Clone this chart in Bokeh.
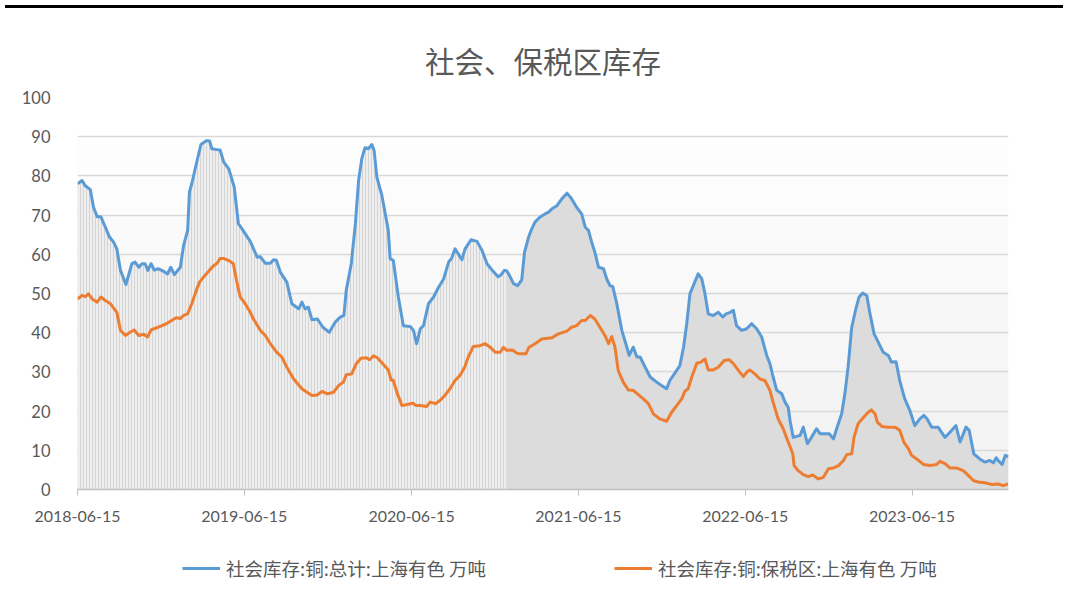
import pandas as pd
from bokeh.plotting import figure
from bokeh.models import (ColumnDataSource, FixedTicker, DatetimeTickFormatter, Legend,
                          LegendItem, BoxAnnotation, Range1d, Div)
from bokeh.layouts import column
from bokeh.embed import file_html
from bokeh.resources import INLINE

title_text = "社会、保税区库存"
series_names = ["社会库存:铜:总计:上海有色 万吨", "社会库存:铜:保税区:上海有色 万吨"]
tick_dates = ["2018-06-15", "2019-06-15", "2020-06-15", "2021-06-15", "2022-06-15", "2023-06-15"]
y_ticks = [0, 10, 20, 30, 40, 50, 60, 70, 80, 90, 100]

total_dates = [
    "2018-06-15", "2018-06-25", "2018-07-02", "2018-07-13", "2018-07-20", "2018-07-28", "2018-08-05",
    "2018-08-15", "2018-08-24", "2018-09-02", "2018-09-09", "2018-09-17", "2018-09-29", "2018-10-12",
    "2018-10-19", "2018-10-27", "2018-11-03", "2018-11-10", "2018-11-16", "2018-11-23", "2018-11-30",
    "2018-12-09", "2018-12-20", "2018-12-29", "2019-01-05", "2019-01-13", "2019-01-26", "2019-02-02",
    "2019-02-11", "2019-02-15", "2019-02-20", "2019-03-02", "2019-03-12", "2019-03-24", "2019-03-31",
    "2019-04-05", "2019-04-16", "2019-04-23", "2019-05-01", "2019-05-12", "2019-05-24", "2019-06-02",
    "2019-06-10", "2019-06-28", "2019-07-13", "2019-07-20", "2019-07-31", "2019-08-11", "2019-08-18",
    "2019-08-24", "2019-09-02", "2019-09-16", "2019-09-27", "2019-10-12", "2019-10-19", "2019-10-26",
    "2019-11-02", "2019-11-10", "2019-11-22", "2019-12-04", "2019-12-18", "2019-12-31", "2020-01-11",
    "2020-01-19", "2020-01-24", "2020-02-04", "2020-02-13", "2020-02-20", "2020-02-27", "2020-03-05",
    "2020-03-13", "2020-03-20", "2020-03-25", "2020-03-31", "2020-04-11", "2020-04-25", "2020-04-29",
    "2020-05-06", "2020-05-17", "2020-05-28", "2020-06-12", "2020-06-19", "2020-06-26", "2020-07-04",
    "2020-07-11", "2020-07-22", "2020-08-02", "2020-08-13", "2020-08-24", "2020-09-04", "2020-09-11",
    "2020-09-18", "2020-09-25", "2020-10-03", "2020-10-10", "2020-10-23", "2020-11-05", "2020-11-16",
    "2020-11-27", "2020-12-08", "2020-12-21", "2020-12-28", "2021-01-04", "2021-01-09", "2021-01-17",
    "2021-01-24", "2021-02-02", "2021-02-11", "2021-02-17", "2021-02-26", "2021-03-05", "2021-03-12",
    "2021-03-23", "2021-04-03", "2021-04-10", "2021-04-18", "2021-04-29", "2021-05-10", "2021-05-21",
    "2021-05-31", "2021-06-11", "2021-06-22", "2021-06-30", "2021-07-07", "2021-07-14", "2021-07-21",
    "2021-07-29", "2021-08-09", "2021-08-16", "2021-08-23", "2021-08-29", "2021-09-07", "2021-09-18",
    "2021-09-29", "2021-10-04", "2021-10-13", "2021-10-21", "2021-10-28", "2021-11-08", "2021-11-19",
    "2021-12-03", "2021-12-14", "2021-12-25", "2022-01-01", "2022-01-12", "2022-01-23", "2022-01-31",
    "2022-02-07", "2022-02-14", "2022-02-23", "2022-03-04", "2022-03-12", "2022-03-19", "2022-03-26",
    "2022-04-06", "2022-04-17", "2022-04-27", "2022-05-04", "2022-05-13", "2022-05-20", "2022-05-27",
    "2022-06-07", "2022-06-18", "2022-06-29", "2022-07-10", "2022-07-21", "2022-08-01", "2022-08-08",
    "2022-08-15", "2022-08-23", "2022-09-03", "2022-09-10", "2022-09-17", "2022-09-21", "2022-09-28",
    "2022-10-13", "2022-10-20", "2022-10-29", "2022-11-07", "2022-11-18", "2022-11-26", "2022-12-06",
    "2022-12-16", "2022-12-25", "2023-01-01", "2023-01-12", "2023-01-19", "2023-01-26", "2023-02-03",
    "2023-02-12", "2023-02-19", "2023-02-27", "2023-03-08", "2023-03-15", "2023-03-24", "2023-04-02",
    "2023-04-13", "2023-04-24", "2023-05-01", "2023-05-11", "2023-05-19", "2023-05-30", "2023-06-10",
    "2023-06-21", "2023-07-02", "2023-07-11", "2023-07-18", "2023-07-28", "2023-08-11", "2023-08-26",
    "2023-09-06", "2023-09-19", "2023-09-28", "2023-10-11", "2023-10-18", "2023-10-28", "2023-11-10",
    "2023-11-21", "2023-12-02", "2023-12-10", "2023-12-16", "2023-12-21", "2023-12-29", "2024-01-05",
    "2024-01-12",
]
total_values = [
    78.0, 78.8, 77.5, 76.5, 72.0, 69.6, 69.6, 66.9, 64.4, 63.1, 61.4, 55.9, 52.3, 57.6,
    58.0, 56.7, 57.6, 57.6, 55.9, 57.6, 56.0, 56.3, 55.7, 55.0, 56.7, 54.8, 56.7, 62.2,
    66.1, 75.9, 78.0, 83.1, 88.0, 89.0, 88.9, 86.9, 86.7, 86.6, 83.5, 81.8, 77.1, 67.8,
    66.5, 63.3, 59.3, 59.4, 57.7, 57.7, 58.6, 58.5, 55.4, 52.9, 47.4, 46.1, 47.8, 46.1,
    46.5, 43.3, 43.5, 41.4, 40.1, 42.7, 44.0, 44.4, 50.8, 57.6, 67.8, 78.8, 84.4, 87.2,
    87.0, 88.0, 86.5, 79.7, 75.0, 66.1, 58.9, 58.4, 49.1, 41.8, 41.6, 40.6, 37.2, 41.0,
    41.8, 47.4, 49.1, 51.6, 53.7, 58.0, 59.1, 61.4, 60.1, 58.6, 61.4, 63.7, 63.3, 61.0,
    57.6, 56.0, 54.3, 54.8, 55.9, 55.8, 54.2, 52.5, 52.0, 53.5, 60.5, 64.4, 66.5, 68.2,
    69.5, 70.3, 70.7, 71.6, 72.4, 74.2, 75.6, 74.2, 72.0, 70.3, 66.9, 66.1, 63.1, 60.5,
    56.7, 56.3, 53.7, 52.0, 51.8, 47.4, 40.6, 36.3, 34.2, 36.3, 33.8, 33.8, 31.2, 28.7,
    27.4, 26.5, 25.7, 27.8, 29.7, 31.6, 36.3, 42.3, 49.9, 52.5, 55.0, 53.7, 49.9, 44.8,
    44.4, 45.2, 44.0, 44.8, 45.2, 45.7, 41.8, 40.6, 41.0, 42.3, 41.0, 38.9, 34.2, 32.1,
    28.7, 25.3, 24.4, 22.3, 21.0, 17.6, 13.3, 13.8, 15.9, 11.7, 13.3, 15.5, 14.2, 14.2,
    14.2, 12.9, 15.5, 19.3, 24.4, 31.2, 41.4, 46.1, 49.1, 50.1, 49.5, 44.8, 39.7, 37.6,
    35.0, 34.2, 32.5, 32.6, 27.8, 23.1, 20.2, 16.3, 18.0, 18.9, 18.0, 15.9, 15.9, 13.3,
    14.6, 16.3, 12.1, 15.9, 15.1, 9.1, 7.8, 7.0, 7.4, 6.8, 8.1, 7.3, 6.4, 8.7,
    8.4,
]

bonded_dates = [
    "2018-06-15", "2018-06-25", "2018-07-02", "2018-07-09", "2018-07-17", "2018-07-28", "2018-08-05",
    "2018-08-15", "2018-08-26", "2018-09-09", "2018-09-17", "2018-09-28", "2018-10-08", "2018-10-17",
    "2018-10-27", "2018-11-07", "2018-11-15", "2018-11-23", "2018-12-04", "2018-12-17", "2018-12-28",
    "2019-01-07", "2019-01-17", "2019-01-26", "2019-02-02", "2019-02-11", "2019-02-20", "2019-03-02",
    "2019-03-09", "2019-03-18", "2019-03-29", "2019-04-07", "2019-04-16", "2019-04-23", "2019-05-02",
    "2019-05-12", "2019-05-22", "2019-05-29", "2019-06-06", "2019-06-17", "2019-06-28", "2019-07-05",
    "2019-07-20", "2019-07-31", "2019-08-11", "2019-08-25", "2019-09-05", "2019-09-16", "2019-10-01",
    "2019-10-19", "2019-10-30", "2019-11-10", "2019-11-21", "2019-12-02", "2019-12-14", "2019-12-27",
    "2020-01-07", "2020-01-18", "2020-01-24", "2020-02-05", "2020-02-15", "2020-02-25", "2020-03-08",
    "2020-03-15", "2020-03-24", "2020-04-01", "2020-04-13", "2020-04-25", "2020-05-01", "2020-05-06",
    "2020-05-15", "2020-05-25", "2020-06-05", "2020-06-18", "2020-06-25", "2020-07-04", "2020-07-18",
    "2020-07-26", "2020-08-06", "2020-08-16", "2020-08-27", "2020-09-07", "2020-09-18", "2020-09-29",
    "2020-10-09", "2020-10-17", "2020-10-28", "2020-11-12", "2020-11-23", "2020-12-04", "2020-12-15",
    "2020-12-26", "2021-01-02", "2021-01-09", "2021-01-22", "2021-01-31", "2021-02-07", "2021-02-20",
    "2021-02-27", "2021-03-12", "2021-03-27", "2021-04-18", "2021-05-02", "2021-05-21", "2021-05-31",
    "2021-06-11", "2021-06-22", "2021-06-30", "2021-07-11", "2021-07-21", "2021-08-01", "2021-08-12",
    "2021-08-20", "2021-08-27", "2021-09-03", "2021-09-10", "2021-09-21", "2021-10-02", "2021-10-13",
    "2021-10-24", "2021-11-04", "2021-11-15", "2021-11-26", "2021-12-10", "2021-12-25", "2022-01-05",
    "2022-01-16", "2022-01-27", "2022-02-03", "2022-02-10", "2022-02-18", "2022-03-01", "2022-03-10",
    "2022-03-19", "2022-03-26", "2022-04-06", "2022-04-17", "2022-04-30", "2022-05-11", "2022-05-20",
    "2022-05-31", "2022-06-11", "2022-06-18", "2022-06-25", "2022-07-06", "2022-07-17", "2022-07-28",
    "2022-08-08", "2022-08-15", "2022-08-26", "2022-09-06", "2022-09-17", "2022-09-27", "2022-09-30",
    "2022-10-09", "2022-10-20", "2022-10-31", "2022-11-10", "2022-11-22", "2022-12-03", "2022-12-14",
    "2022-12-25", "2023-01-05", "2023-01-16", "2023-01-23", "2023-02-03", "2023-02-08", "2023-02-17",
    "2023-02-28", "2023-03-11", "2023-03-18", "2023-03-26", "2023-03-31", "2023-04-10", "2023-04-24",
    "2023-05-09", "2023-05-19", "2023-05-28", "2023-06-07", "2023-06-14", "2023-06-25", "2023-07-10",
    "2023-07-24", "2023-08-08", "2023-08-15", "2023-08-26", "2023-09-06", "2023-09-20", "2023-10-05",
    "2023-10-16", "2023-10-27", "2023-11-07", "2023-11-21", "2023-12-06", "2023-12-21", "2023-12-31",
    "2024-01-11",
]
bonded_values = [
    48.6, 49.5, 49.2, 49.9, 48.6, 47.8, 49.1, 48.2, 47.4, 45.2, 40.6, 39.3, 40.1, 40.7,
    39.3, 39.6, 38.9, 40.7, 41.2, 41.8, 42.4, 43.1, 43.8, 43.6, 44.4, 44.8, 47.4, 50.8,
    52.9, 54.2, 55.7, 56.9, 57.7, 58.9, 58.9, 58.4, 57.6, 53.3, 49.1, 47.4, 45.2, 43.5,
    40.6, 39.3, 37.2, 35.0, 33.8, 31.2, 28.2, 25.7, 24.8, 24.0, 24.1, 25.0, 24.4, 24.8,
    26.5, 27.4, 29.3, 29.5, 32.1, 33.5, 33.6, 33.1, 34.1, 33.6, 32.1, 30.5, 28.0, 27.8,
    24.4, 21.4, 21.7, 22.0, 21.4, 21.4, 21.2, 22.3, 21.9, 22.7, 24.0, 25.7, 27.8, 29.1,
    31.2, 33.8, 36.5, 36.7, 37.2, 36.3, 35.0, 35.0, 36.3, 35.5, 35.6, 34.8, 34.6, 34.6,
    36.3, 37.2, 38.4, 38.7, 39.7, 40.4, 41.4, 41.8, 43.1, 43.1, 44.4, 43.5, 41.4, 39.3,
    37.2, 39.0, 36.3, 30.4, 27.4, 25.4, 25.3, 24.2, 23.1, 21.9, 19.3, 18.0, 17.4, 19.7,
    21.4, 23.1, 25.1, 25.7, 28.7, 32.2, 32.5, 33.3, 30.5, 30.5, 31.2, 32.9, 33.1, 32.1,
    30.4, 28.8, 29.9, 30.5, 29.5, 28.2, 27.8, 25.3, 22.3, 18.0, 15.5, 12.1, 9.1, 6.1,
    4.8, 3.8, 3.3, 3.7, 2.7, 3.1, 5.3, 5.5, 6.1, 7.4, 8.9, 9.1, 13.3, 16.8,
    18.3, 19.7, 20.3, 19.3, 17.2, 16.1, 15.9, 15.9, 15.1, 12.1, 10.4, 8.7, 7.8, 6.4,
    6.1, 6.4, 7.2, 6.6, 5.5, 5.5, 4.8, 3.6, 2.3, 1.9, 1.7, 1.3, 1.4, 1.0,
    1.4,
]

BLUE = "#5b9bd5"
ORANGE = "#ed7d31"
TEXT = "#595959"
FONT = "Noto Sans CJK SC"

td = pd.to_datetime(total_dates)
bd = pd.to_datetime(bonded_dates)
split = pd.Timestamp("2021-01-09")

early = ColumnDataSource(dict(x=td[td <= split], y=[v for d, v in zip(td, total_values) if d <= split]))
late = ColumnDataSource(dict(x=td[td >= split], y=[v for d, v in zip(td, total_values) if d >= split]))

p = figure(width=1058, height=526, x_axis_type="datetime", output_backend="svg",
           toolbar_location=None,
           x_range=Range1d(td.min(), max(td.max(), bd.max())), y_range=Range1d(0, 100),
           min_border_left=77, min_border_right=50, min_border_top=84, min_border_bottom=50,
           background_fill_color="white", border_fill_color="white")
p.outline_line_color = None

# soft vertical gradient of the plot area
for i in range(10):
    c = 241 + int(round(14 * i / 9))
    p.add_layout(BoxAnnotation(bottom=i * 10, top=(i + 1) * 10, fill_color=f"#{c:02x}{c:02x}{c:02x}",
                               fill_alpha=1, line_alpha=0, level="image"))

p.varea(x="x", y1=0, y2="y", source=early, fill_color="#eeeeee",
        hatch_pattern="vertical_line", hatch_color="#d4d4d4", hatch_scale=3, hatch_weight=1)
p.varea(x="x", y1=0, y2="y", source=late, fill_color="#dcdcdc")

r1 = p.line(td, total_values, line_width=3, color=BLUE, line_join="round")
r2 = p.line(bd, bonded_values, line_width=3, color=ORANGE, line_join="round")

p.title.text = title_text
p.title.align = "center"
p.title.offset = 12
p.title.text_font = FONT
p.title.text_font_size = "29.5px"
p.title.text_font_style = "normal"
p.title.text_color = TEXT
p.title.standoff = 34

p.xaxis.ticker = FixedTicker(ticks=[pd.Timestamp(t).value // 10**6 for t in tick_dates])
fmt = "%Y-%m-%d"
p.xaxis.formatter = DatetimeTickFormatter(milliseconds=fmt, seconds=fmt, minsec=fmt, minutes=fmt,
                                          hourmin=fmt, hours=fmt, days=fmt, months=fmt, years=fmt)
p.xaxis.axis_line_color = "#bfbfbf"
p.xaxis.axis_line_width = 1.5
p.xaxis.major_tick_line_color = "#bfbfbf"
p.xaxis.major_tick_out = 6
p.xaxis.major_tick_in = 0
p.xaxis.minor_tick_line_color = None
p.xaxis.major_label_text_font = "Lato"
p.xaxis.major_label_text_font_size = "16px"
p.xaxis.major_label_text_color = TEXT
p.xaxis.major_label_standoff = 15

p.yaxis.ticker = FixedTicker(ticks=y_ticks)
p.yaxis.axis_line_color = None
p.yaxis.major_tick_line_color = None
p.yaxis.minor_tick_line_color = None
p.yaxis.major_label_text_font = "Lato"
p.yaxis.major_label_text_font_size = "16.5px"
p.yaxis.major_label_text_color = TEXT
p.yaxis.major_label_standoff = 21

p.xgrid.grid_line_color = None
p.ygrid.grid_line_color = "#d9d9d9"
p.ygrid.grid_line_width = 1.5

# legend strip below the chart (its frame is aligned with the chart frame)
lf = figure(width=1058, height=62, output_backend="svg", toolbar_location=None,
            x_range=Range1d(0, 1), y_range=Range1d(0, 1),
            min_border_left=0, min_border_right=0, min_border_top=0, min_border_bottom=0,
            border_fill_color="white", background_fill_color="white")
lf.outline_line_color = None
lf.axis.visible = False
lf.grid.visible = False
# key glyphs only: their points lie outside the strip's ranges
k1 = lf.line(x=[5, 6], y=[5, 6], line_width=3, color=BLUE)
k2 = lf.line(x=[5, 6], y=[5, 6], line_width=3, color=ORANGE)
legend = Legend(items=[LegendItem(label=series_names[0], renderers=[k1]),
                       LegendItem(label=series_names[1], renderers=[k2])],
                orientation="horizontal", location=(105, 20), spacing=128,
                glyph_width=38, glyph_height=20, label_standoff=6, padding=0, margin=0,
                label_text_font=FONT, label_text_font_size="18.5px", label_text_color=TEXT,
                border_line_alpha=0, background_fill_alpha=0)
lf.add_layout(legend)

bar = Div(text="", width=1058, height=3, styles={"background-color": "black"})
layout = column(bar, p, lf, spacing=0)

open("out.html", "w").write(file_html(layout, INLINE))
